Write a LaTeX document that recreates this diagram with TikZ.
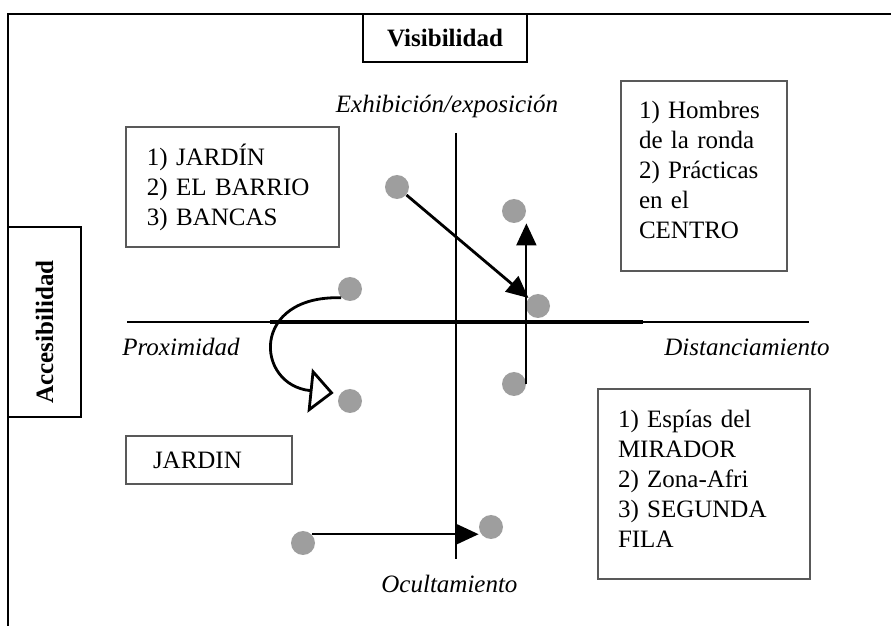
\documentclass[tikz,border=0pt]{standalone}
\usepackage{fontspec}
\setmainfont{Liberation Serif}
\usepackage{tikz}
\usetikzlibrary{calc,positioning,arrows.meta}
\tikzstyle{spot}       = [circle, fill=black!38, minimum size=12pt, inner sep=0pt]
\tikzstyle{listbox}    = [draw=black!65, line width=0.7pt]
\tikzstyle{listtext}   = [align=left, inner sep=0pt]
\tikzstyle{titlebox}   = [draw=black, line width=1pt]
\tikzstyle{axis}       = [line width=1.4pt]
\tikzstyle{solidarrow} = [line width=1pt, -{Triangle[length=11pt,width=10pt]}]
\tikzstyle{openarrow}  = [line width=1.4pt, -{Triangle[open,length=12pt,width=22pt,fill=white]}]

\begin{document}
\begin{tikzpicture}[x=0.5pt, y=-0.5pt, font=\fontsize{12.5}{15}\selectfont]
        \useasboundingbox (0,0) rectangle (891,626);
        \draw[line width=1.2pt] (891,14) -- (8,14) -- (8,626);
        \draw[titlebox] (363,14) rectangle node (visib) {\textbf{Visibilidad}} (527,62);
        \draw[titlebox] (8,227) rectangle node[yshift=-5pt, rotate=90] (acces) {\textbf{Accesibilidad}} (81,417);

        \draw[listbox] (126,127) rectangle node[listtext, text width=85.5pt] (jardin1) {1) JARDÍN\\2) EL BARRIO\\3) BANCAS} (339,247);
        \draw[listbox] (621,81) rectangle node[listtext, text width=65pt, yshift=3pt] (hombres) {1) Hombres\\de la ronda\\2) Prácticas\\en el\\CENTRO} (787,271);
        \draw[listbox] (126,436) rectangle node[listtext, text width=56pt] (jardin2) {JARDIN} (292,484);
        \draw[listbox] (598,389) rectangle node[listtext, text width=86pt, yshift=2.5pt] (espias) {1) Espías del\\MIRADOR\\2) Zona-Afri\\3) SEGUNDA\\FILA} (810,579);

        \draw[axis] (456,133) -- (456,559);
        \draw[line width=1pt] (127,322) -- (809,322);
        \draw[line width=1.8pt] (270,322) -- (643,322);

        \node[anchor=base] (exhib) at (447,113) {\textit{Exhibición/exposición}};
        \node[anchor=base west, inner sep=0pt] (proxim) at (122,356) {\textit{Proximidad}};
        \node[anchor=base west, inner sep=0pt] (distan) at (664,356) {\textit{Distanciamiento}};
        \node[anchor=base west, inner sep=0pt] (ocult) at (381,593) {\textit{Ocultamiento}};

        \node[spot] (p1) at (397,187) {};
        \node[spot] (p2) at (514,211) {};
        \node[spot] (p3) at (538,306) {};
        \node[spot] (p4) at (350,289) {};
        \node[spot] (p5) at (350,401) {};
        \node[spot] (p6) at (514,384) {};
        \node[spot] (p7) at (491,527) {};
        \node[spot] (p8) at (303,543) {};

        \draw[solidarrow, line width=1.4pt] (p1) -- (p3);
        \draw[solidarrow] (p6.east) -- (p6.east |- p2.south);
        \draw[solidarrow] (p8.north east) -- (p8.north east -| p7.west);
        \draw[openarrow] (p4.south west) .. controls (250,295) and (255,385) .. ($(p5.west)+(-4,-8)$);
\end{tikzpicture}
\end{document}
